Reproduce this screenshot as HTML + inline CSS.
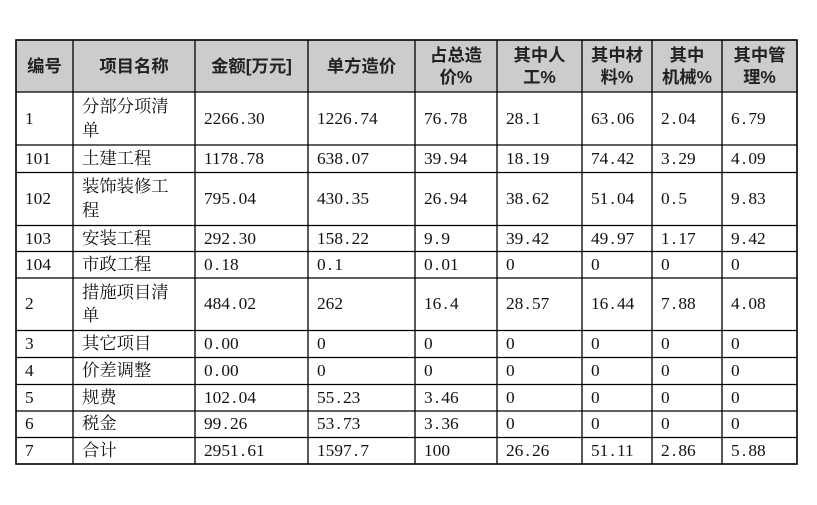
<!DOCTYPE html>
<html><head><meta charset="utf-8">
<style>
html,body{margin:0;padding:0;background:#fff;}
body{width:817px;height:505px;position:relative;overflow:hidden;}
.r{position:absolute;left:0;width:817px;}
.h{background:#cccccc;}
.c{position:absolute;top:0;bottom:0;display:flex;align-items:center;box-sizing:border-box;padding-left:9px;
 font-family:"Liberation Serif","Noto Serif CJK SC",serif;font-size:17.33px;line-height:23.7px;color:#111;white-space:nowrap;}
.hc{justify-content:center;text-align:center;padding-left:0;font-family:"Liberation Sans","Noto Sans CJK SC",sans-serif;font-weight:bold;line-height:22.5px;color:#222;}
.c1{left:16px;width:57px}
.c2{left:73px;width:122px}
.c3{left:195px;width:113px}
.c4{left:308px;width:107px}
.c5{left:415px;width:82px}
.c6{left:497px;width:85px}
.c7{left:582px;width:70px}
.c8{left:652px;width:70px}
.c9{left:722px;width:75px}
.p{display:inline-block;width:0.5em;text-align:center;}
svg{position:absolute;left:0;top:0;}
</style></head><body>
<div class="r h" style="top:40px;height:52px;left:16px;width:781px"></div>
<div class="r" style="top:40px;height:52px">
 <div class="c hc c1">编号</div>
 <div class="c hc c2">项目名称</div>
 <div class="c hc c3">金额[万元]</div>
 <div class="c hc c4">单方造价</div>
 <div class="c hc c5">占总造<br>价%</div>
 <div class="c hc c6">其中人<br>工%</div>
 <div class="c hc c7">其中材<br>料%</div>
 <div class="c hc c8">其中<br>机械%</div>
 <div class="c hc c9">其中管<br>理%</div>
</div>
<div class="r" style="top:92px;height:53px">
 <div class="c c1">1</div><div class="c c2">分部分项清<br>单</div><div class="c c3">2266<span class="p">.</span>30</div><div class="c c4">1226<span class="p">.</span>74</div><div class="c c5">76<span class="p">.</span>78</div><div class="c c6">28<span class="p">.</span>1</div><div class="c c7">63<span class="p">.</span>06</div><div class="c c8">2<span class="p">.</span>04</div><div class="c c9">6<span class="p">.</span>79</div>
</div>
<div class="r" style="top:145px;height:27.5px">
 <div class="c c1">101</div><div class="c c2">土建工程</div><div class="c c3">1178<span class="p">.</span>78</div><div class="c c4">638<span class="p">.</span>07</div><div class="c c5">39<span class="p">.</span>94</div><div class="c c6">18<span class="p">.</span>19</div><div class="c c7">74<span class="p">.</span>42</div><div class="c c8">3<span class="p">.</span>29</div><div class="c c9">4<span class="p">.</span>09</div>
</div>
<div class="r" style="top:172.5px;height:53px">
 <div class="c c1">102</div><div class="c c2">装饰装修工<br>程</div><div class="c c3">795<span class="p">.</span>04</div><div class="c c4">430<span class="p">.</span>35</div><div class="c c5">26<span class="p">.</span>94</div><div class="c c6">38<span class="p">.</span>62</div><div class="c c7">51<span class="p">.</span>04</div><div class="c c8">0<span class="p">.</span>5</div><div class="c c9">9<span class="p">.</span>83</div>
</div>
<div class="r" style="top:225.5px;height:26px">
 <div class="c c1">103</div><div class="c c2">安装工程</div><div class="c c3">292<span class="p">.</span>30</div><div class="c c4">158<span class="p">.</span>22</div><div class="c c5">9<span class="p">.</span>9</div><div class="c c6">39<span class="p">.</span>42</div><div class="c c7">49<span class="p">.</span>97</div><div class="c c8">1<span class="p">.</span>17</div><div class="c c9">9<span class="p">.</span>42</div>
</div>
<div class="r" style="top:251.5px;height:26.5px">
 <div class="c c1">104</div><div class="c c2">市政工程</div><div class="c c3">0<span class="p">.</span>18</div><div class="c c4">0<span class="p">.</span>1</div><div class="c c5">0<span class="p">.</span>01</div><div class="c c6">0</div><div class="c c7">0</div><div class="c c8">0</div><div class="c c9">0</div>
</div>
<div class="r" style="top:278px;height:52.5px">
 <div class="c c1">2</div><div class="c c2">措施项目清<br>单</div><div class="c c3">484<span class="p">.</span>02</div><div class="c c4">262</div><div class="c c5">16<span class="p">.</span>4</div><div class="c c6">28<span class="p">.</span>57</div><div class="c c7">16<span class="p">.</span>44</div><div class="c c8">7<span class="p">.</span>88</div><div class="c c9">4<span class="p">.</span>08</div>
</div>
<div class="r" style="top:330.5px;height:27px">
 <div class="c c1">3</div><div class="c c2">其它项目</div><div class="c c3">0<span class="p">.</span>00</div><div class="c c4">0</div><div class="c c5">0</div><div class="c c6">0</div><div class="c c7">0</div><div class="c c8">0</div><div class="c c9">0</div>
</div>
<div class="r" style="top:357.5px;height:27px">
 <div class="c c1">4</div><div class="c c2">价差调整</div><div class="c c3">0<span class="p">.</span>00</div><div class="c c4">0</div><div class="c c5">0</div><div class="c c6">0</div><div class="c c7">0</div><div class="c c8">0</div><div class="c c9">0</div>
</div>
<div class="r" style="top:384.5px;height:26.5px">
 <div class="c c1">5</div><div class="c c2">规费</div><div class="c c3">102<span class="p">.</span>04</div><div class="c c4">55<span class="p">.</span>23</div><div class="c c5">3<span class="p">.</span>46</div><div class="c c6">0</div><div class="c c7">0</div><div class="c c8">0</div><div class="c c9">0</div>
</div>
<div class="r" style="top:411px;height:26.5px">
 <div class="c c1">6</div><div class="c c2">税金</div><div class="c c3">99<span class="p">.</span>26</div><div class="c c4">53<span class="p">.</span>73</div><div class="c c5">3<span class="p">.</span>36</div><div class="c c6">0</div><div class="c c7">0</div><div class="c c8">0</div><div class="c c9">0</div>
</div>
<div class="r" style="top:437.5px;height:26.5px">
 <div class="c c1">7</div><div class="c c2">合计</div><div class="c c3">2951<span class="p">.</span>61</div><div class="c c4">1597<span class="p">.</span>7</div><div class="c c5">100</div><div class="c c6">26<span class="p">.</span>26</div><div class="c c7">51<span class="p">.</span>11</div><div class="c c8">2<span class="p">.</span>86</div><div class="c c9">5<span class="p">.</span>88</div>
</div>
<svg width="817" height="505" viewBox="0 0 817 505">
 <g stroke="#000" stroke-width="1.3" fill="none">
  <line x1="73" y1="40" x2="73" y2="464"/>
  <line x1="195" y1="40" x2="195" y2="464"/>
  <line x1="308" y1="40" x2="308" y2="464"/>
  <line x1="415" y1="40" x2="415" y2="464"/>
  <line x1="497" y1="40" x2="497" y2="464"/>
  <line x1="582" y1="40" x2="582" y2="464"/>
  <line x1="652" y1="40" x2="652" y2="464"/>
  <line x1="722" y1="40" x2="722" y2="464"/>
  <line x1="16" y1="92" x2="797" y2="92"/>
  <line x1="16" y1="145" x2="797" y2="145"/>
  <line x1="16" y1="172.5" x2="797" y2="172.5"/>
  <line x1="16" y1="225.5" x2="797" y2="225.5"/>
  <line x1="16" y1="251.5" x2="797" y2="251.5"/>
  <line x1="16" y1="278" x2="797" y2="278"/>
  <line x1="16" y1="330.5" x2="797" y2="330.5"/>
  <line x1="16" y1="357.5" x2="797" y2="357.5"/>
  <line x1="16" y1="384.5" x2="797" y2="384.5"/>
  <line x1="16" y1="411" x2="797" y2="411"/>
  <line x1="16" y1="437.5" x2="797" y2="437.5"/>
 </g>
 <rect x="16" y="40" width="781" height="424" stroke="#000" stroke-width="1.6" fill="none"/>
</svg>
</body></html>
